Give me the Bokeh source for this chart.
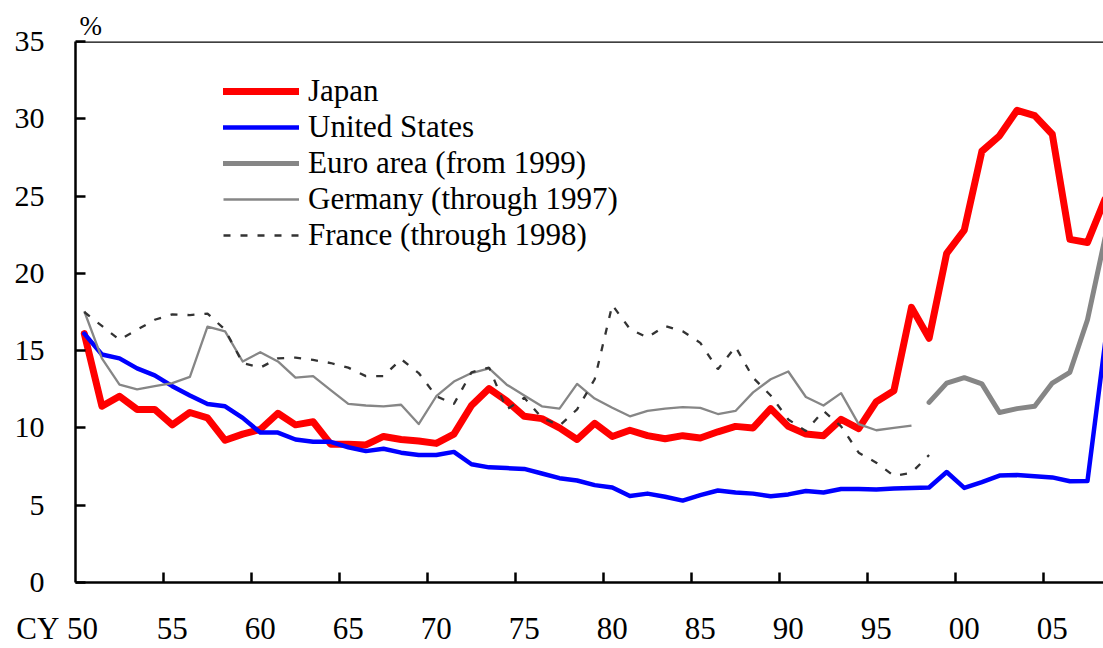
from bokeh.plotting import figure
from bokeh.models import (LinearAxis, FixedTicker, Legend, LegendItem, Range1d, Span)
from bokeh.embed import file_html
from bokeh.resources import INLINE

# ---------------- data ----------------
years = list(range(1950, 2009))
japan = [16.1, 11.4, 12.05, 11.2, 11.2, 10.2, 11.0, 10.65, 9.2, 9.6,
         9.9, 10.95, 10.2, 10.4, 8.95, 8.95, 8.9, 9.45, 9.25, 9.15,
         9.0, 9.6, 11.45, 12.55, 11.75, 10.75, 10.6, 10.0, 9.25, 10.3,
         9.45, 9.85, 9.5, 9.3, 9.5, 9.35, 9.75, 10.1, 10.0, 11.25,
         10.1, 9.6, 9.5, 10.55, 9.95, 11.7, 12.4, 17.8, 15.8, 21.3,
         22.8, 27.9, 28.9, 30.55, 30.2, 29.0, 22.2, 22.0, 24.8]
us = [16.1, 14.75, 14.5, 13.85, 13.4, 12.7, 12.1, 11.55, 11.4, 10.65,
      9.7, 9.7, 9.25, 9.1, 9.1, 8.75, 8.5, 8.65, 8.4, 8.25,
      8.25, 8.45, 7.65, 7.45, 7.4, 7.35, 7.05, 6.75, 6.6, 6.3,
      6.15, 5.6, 5.75, 5.55, 5.3, 5.65, 5.95, 5.82, 5.75, 5.58,
      5.7, 5.92, 5.82, 6.05, 6.05, 6.02, 6.08, 6.12, 6.15, 7.15,
      6.12, 6.5, 6.92, 6.95, 6.88, 6.8, 6.55, 6.57, 15.5]
euro_years = list(range(1998, 2009))
euro = [11.65, 12.9, 13.25, 12.85, 11.0, 11.25, 11.4, 12.9, 13.6, 17.0, 22.3]
germany_years = list(range(1950, 1998))
germany = [17.55, 14.5, 12.8, 12.5, 12.7, 12.9, 13.3, 16.55, 16.25, 14.3,
           14.9, 14.3, 13.25, 13.35, 12.45, 11.55, 11.45, 11.4, 11.5, 10.25,
           12.05, 13.0, 13.55, 13.85, 12.8, 12.1, 11.4, 11.25, 12.85, 11.9,
           11.3, 10.75, 11.1, 11.25, 11.35, 11.3, 10.9, 11.1, 12.3, 13.15,
           13.65, 12.0, 11.45, 12.25, 10.25, 9.85, 10.0, 10.15]
france_years = list(range(1950, 1999))
france = [17.5, 16.6, 15.7, 16.35, 17.0, 17.35, 17.3, 17.4, 16.35, 14.2,
          13.9, 14.5, 14.55, 14.4, 14.2, 13.9, 13.35, 13.35, 14.45, 13.55,
          12.05, 11.55, 13.6, 13.9, 11.2, 11.95, 10.65, 10.15, 11.2, 13.15,
          17.95, 16.4, 15.85, 16.6, 16.25, 15.5, 13.8, 15.25, 13.25, 12.1,
          10.55, 9.8, 11.1, 10.1, 8.4, 7.75, 6.9, 7.1, 8.25]
series_names = ["Japan", "United States", "Euro area (from 1999)",
                "Germany (through 1997)", "France (through 1998)"]
y_ticks = [0, 5, 10, 15, 20, 25, 30, 35]
x_tick_bounds = [1955, 1960, 1965, 1970, 1975, 1980, 1985, 1990, 1995, 2000, 2005]
x_label_years = [1950, 1955, 1960, 1965, 1970, 1975, 1980, 1985, 1990, 1995, 2000, 2005]
x_labels = ["50", "55", "60", "65", "70", "75", "80", "85", "90", "95", "00", "05"]
x_unit = "CY"

# ---------------- styling ----------------
FONT = "Liberation Serif"
MID = 0.5  # points sit in the middle of each year slot
NB = "\u00a0"


def mid(ys):
    return [y + MID for y in ys]


# the first tick label carries the "CY" unit to its left (padded so that the
# number stays centred in its year slot)
label_map = {y + MID: t for y, t in zip(x_label_years, x_labels)}
first = x_label_years[0] + MID
label_map[first] = x_unit + NB + label_map[first] + NB * 7

p = figure(width=1103, height=648,
           x_range=Range1d(1950, 2008.41), y_range=Range1d(0, 35),
           output_backend="svg", toolbar_location=None,
           x_axis_type=None, y_axis_type=None,
           min_border_left=75, min_border_right=0,
           min_border_top=41, min_border_bottom=65,
           title="%")
p.outline_line_color = None
p.background_fill_color = "white"
p.border_fill_color = "white"
p.title.align = "left"
p.title.offset = 4
p.title.standoff = 1
p.title.text_font = FONT
p.title.text_font_size = "27px"
p.title.text_font_style = "normal"
p.title.text_color = "black"

r_jp = p.line(mid(years), japan, line_color="#ff0000", line_width=7,
              line_join="round", line_cap="round")
r_us = p.line(mid(years), us, line_color="#0000ff", line_width=4.5,
              line_join="round", line_cap="round")
r_eu = p.line(mid(euro_years), euro, line_color="#868686", line_width=5,
              line_join="round", line_cap="round")
r_de = p.line(mid(germany_years), germany, line_color="#868686", line_width=2.3,
              line_join="round")
r_fr = p.line(mid(france_years), france, line_color="#333333", line_width=2.3,
              line_dash="7 10")

# y axis
yax = LinearAxis(ticker=FixedTicker(ticks=y_ticks),
                 major_tick_in=10, major_tick_out=0,
                 minor_tick_line_color=None,
                 axis_line_width=2.5, axis_line_color="black",
                 major_tick_line_width=2.5, major_tick_line_color="black",
                 major_label_standoff=31,
                 major_label_text_font=FONT, major_label_text_font_size="30px",
                 major_label_text_color="black")
p.add_layout(yax, "left")

# x axis: labels centred in the year slots, slot boundaries as (minor) ticks
xax = LinearAxis(ticker=FixedTicker(ticks=mid(x_label_years), minor_ticks=x_tick_bounds),
                 major_label_overrides=label_map,
                 axis_line_width=2.5, axis_line_color="black",
                 major_tick_line_color=None, major_tick_in=0, major_tick_out=0,
                 minor_tick_in=10, minor_tick_out=0,
                 minor_tick_line_width=2.5, minor_tick_line_color="black",
                 major_label_standoff=28,
                 major_label_text_font=FONT, major_label_text_font_size="31px",
                 major_label_text_color="black")
p.add_layout(xax, "below")

# top frame line
p.add_layout(Span(location=35, dimension="width", line_color="black", line_width=2.5))

legend = Legend(items=[LegendItem(label=n, renderers=[r])
                       for n, r in zip(series_names, [r_jp, r_us, r_eu, r_de, r_fr])],
                location=(148, 329), orientation="vertical",
                glyph_width=76, glyph_height=36, label_height=36, spacing=0,
                padding=0, margin=0, border_line_color=None,
                background_fill_alpha=0, label_standoff=9,
                label_text_font=FONT, label_text_font_size="31px",
                label_text_color="black")
p.add_layout(legend)

open("out.html", "w").write(file_html(p, INLINE))
